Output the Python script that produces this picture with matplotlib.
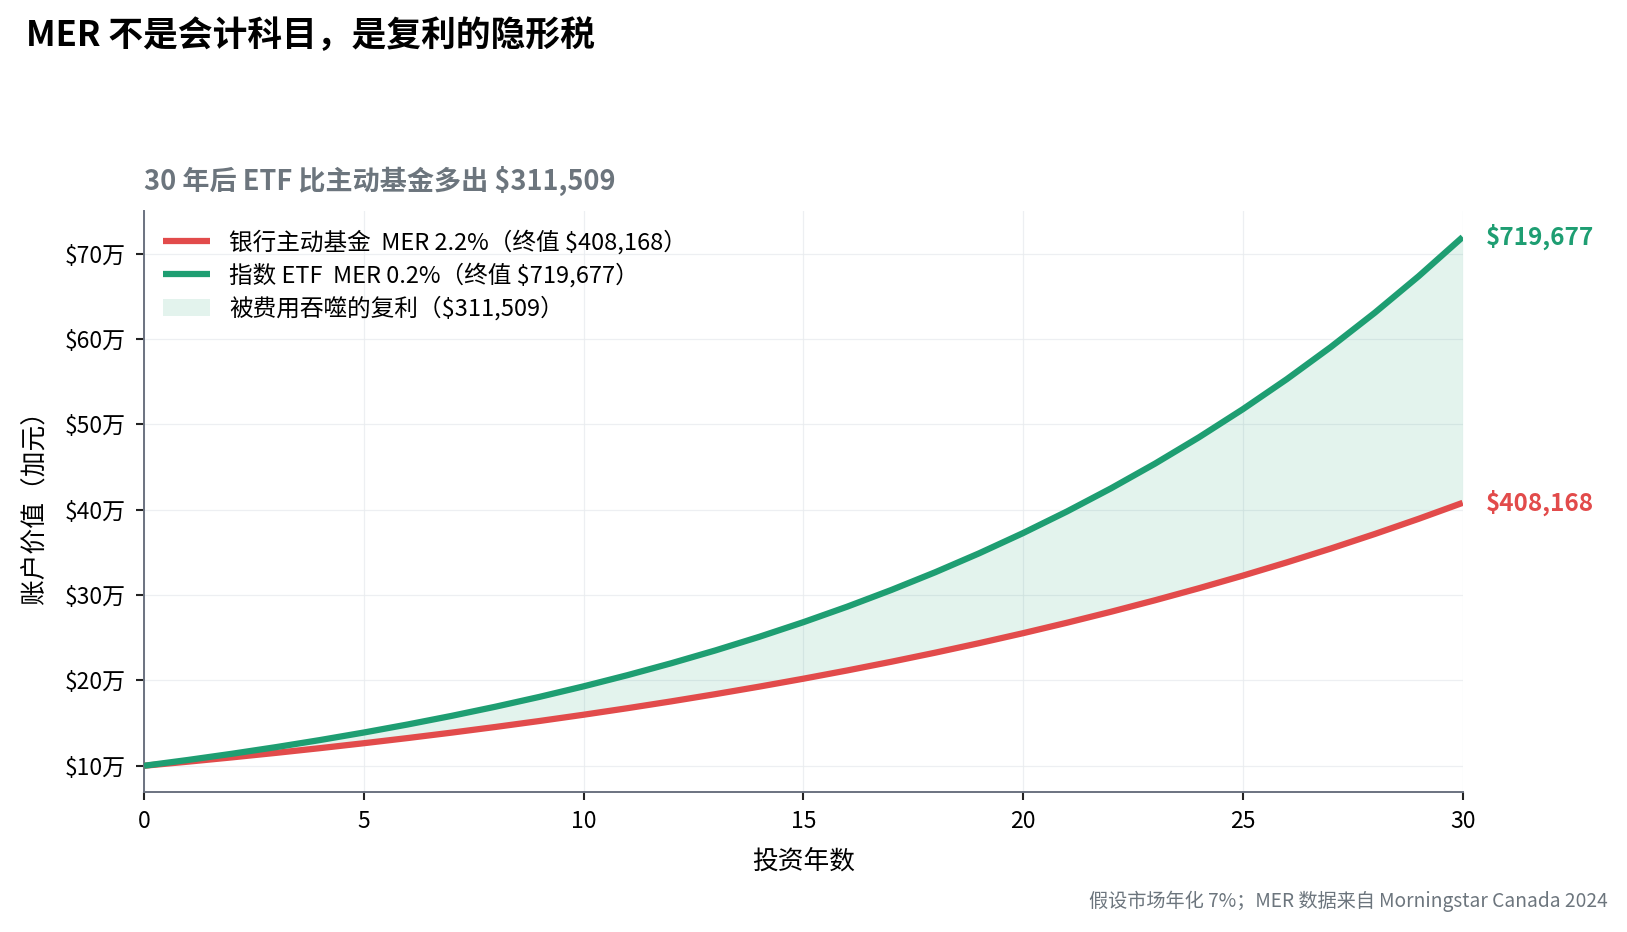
import matplotlib
matplotlib.use("Agg")
import matplotlib.pyplot as plt
from matplotlib.ticker import FuncFormatter

plt.rcParams['font.family'] = ['Noto Sans CJK SC', 'DejaVu Sans']

years = list(range(0, 31))
bank_values = [100000, 104800, 109830, 115102, 120627, 126417, 132485, 138844,
               145509, 152493, 159813, 167484, 175523, 183948, 192778, 202031,
               211729, 221892, 232542, 243704, 255402, 267662, 280510, 293974,
               308085, 322873, 338371, 354613, 371634, 389473, 408168]
etf_values = [100000, 106800, 114062, 121819, 130102, 138949, 148398, 158489,
              169266, 180776, 193069, 206198, 220219, 235194, 251187, 268268,
              286510, 305993, 326800, 349023, 372756, 398103, 425174, 454086,
              484964, 517942, 553162, 590777, 630949, 673854, 719677]
yticks = [100000, 200000, 300000, 400000, 500000, 600000, 700000]
xticks = [0, 5, 10, 15, 20, 25, 30]

bank_label = "银行主动基金  MER 2.2%（终值 $408,168）"
etf_label = "指数 ETF  MER 0.2%（终值 $719,677）"
gap_label = "被费用吞噬的复利（$311,509）"
title = "MER 不是会计科目，是复利的隐形税"
subtitle = "30 年后 ETF 比主动基金多出 $311,509"
footnote = "假设市场年化 7%；MER 数据来自 Morningstar Canada 2024"

RED = "#e24b4b"
GREEN = "#1e9e72"
GRAY = "#6c757d"
SPINE = "#6b7280"

fig = plt.figure(figsize=(16.27, 9.32), dpi=100)
ax = fig.add_axes([0.0885, 0.150, 0.8105, 0.624])

ax.fill_between(years, bank_values, etf_values, facecolor=GREEN, alpha=0.12,
                edgecolor=GREEN, linewidth=0, label=gap_label, zorder=1)
ax.plot(years, bank_values, color=RED, lw=4.5, label=bank_label, zorder=3,
        solid_capstyle='butt')
ax.plot(years, etf_values, color=GREEN, lw=4.5, label=etf_label, zorder=3,
        solid_capstyle='butt')

ax.set_xlim(0, 30)
ax.set_xticks(xticks)
ax.set_yticks(yticks)
ax.yaxis.set_major_formatter(FuncFormatter(lambda v, p: f"${int(round(v/10000))}万"))
ax.tick_params(axis='both', labelsize=16.5, color='#222222', length=6, width=1.5, pad=7)
ax.grid(True, color='#e9ecef', linewidth=0.9, alpha=0.8)
ax.set_axisbelow(True)
for s in ['top', 'right']:
    ax.spines[s].set_visible(False)
for s in ['left', 'bottom']:
    ax.spines[s].set_color(SPINE)
    ax.spines[s].set_linewidth(1.4)

ax.set_xlabel("投资年数", fontsize=18.5, labelpad=11)
ax.set_ylabel("账户价值（加元）", fontsize=18.5, labelpad=12)

ax.text(1.0175, etf_values[-1], f"${etf_values[-1]:,}", transform=ax.get_yaxis_transform(),
        color=GREEN, fontsize=17.5, fontweight='bold', va='center', ha='left')
ax.text(1.0175, bank_values[-1], f"${bank_values[-1]:,}", transform=ax.get_yaxis_transform(),
        color=RED, fontsize=17.5, fontweight='bold', va='center', ha='left')

handles, labels = ax.get_legend_handles_labels()
order = [1, 2, 0]
leg = ax.legend([handles[i] for i in order], [labels[i] for i in order],
                loc='upper left', frameon=False, fontsize=17, handlelength=2.0,
                labelspacing=0.36, borderaxespad=0.4, handletextpad=0.8)

ax.set_title(subtitle, loc='left', fontsize=19.5, fontweight='bold', color=GRAY, pad=15)
fig.text(0.016, 0.962, title, fontsize=25, fontweight='bold', color='black',
         ha='left', va='center')
fig.text(0.988, 0.033, footnote, fontsize=13.8, color=GRAY, ha='right', va='center')

fig.savefig("out.png", dpi=100)
